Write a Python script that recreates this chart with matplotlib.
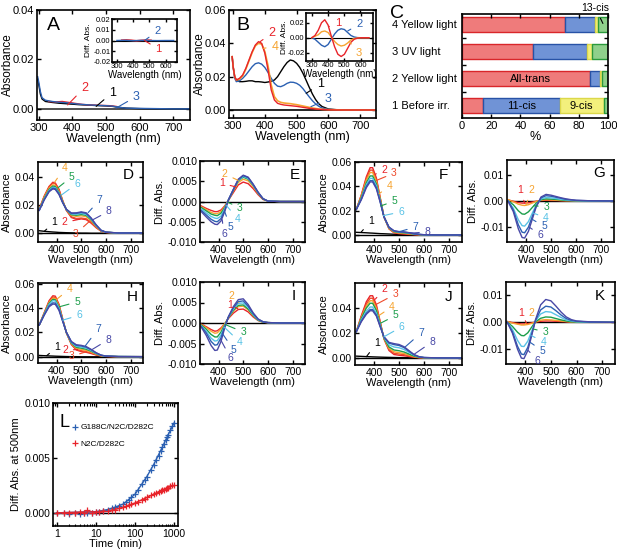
import numpy as np
import matplotlib
matplotlib.use("Agg")
import matplotlib.pyplot as plt
import matplotlib.transforms as mtrans

plt.rcParams['font.family'] = ['Liberation Sans', 'DejaVu Sans']
plt.rcParams['axes.unicode_minus'] = False

W, H = 617, 552

# -----------------------------------------------------------------------------
# Data
# -----------------------------------------------------------------------------
# Panel A: absorbance spectra (1 black, 2 red, 3 blue)
WL_A = [297, 300, 305, 310, 320, 340, 360, 380, 400, 420, 450, 480, 500, 520,
        540, 560, 600, 650, 700, 750]
A_1 = [0.012, 0.010, 0.006, 0.004, 0.003, 0.0026, 0.0023, 0.0021, 0.0019,
       0.0017, 0.0015, 0.0013, 0.0012, 0.0010, 0.0006, 0.0003, 0.0001, 0.0,
       0.0, 0.0]
A_3 = [0.013, 0.011, 0.007, 0.0045, 0.0035, 0.003, 0.0027, 0.0025, 0.0022,
       0.0019, 0.0016, 0.0014, 0.0013, 0.0011, 0.0006, 0.0003, 0.0002, 0.0001,
       0.0, 0.0]
WL_A2 = [330, 350, 370, 390, 410, 430, 450, 470, 490, 510, 530]
A_2 = [0.0030, 0.0028, 0.0030, 0.0026, 0.0022, 0.0018, 0.0016, 0.0015,
       0.0014, 0.0013, 0.0010]
# Panel A inset: difference spectra
WL_AI = [300, 350, 400, 450, 500, 550, 600, 650]
AI_2 = [0.0, 0.0002, -0.0002, 0.0001, 0.0, -0.0001, 0.0, 0.0]
WL_AI1 = [330, 360, 390, 420, 450, 480, 510]
AI_1 = [0.0003, 0.0005, 0.0002, -0.0003, 0.0001, 0.0004, 0.0002]

# Panel B: absorbance spectra (1 black, 2 red, 3 blue, 4 orange)
WL_B = [297, 300, 305, 310, 320, 330, 340, 350, 360, 370, 380, 390, 400, 410,
        420, 430, 440, 450, 460, 470, 480, 490, 500, 510, 520, 530, 540, 550,
        560, 570, 580, 600, 625, 650, 700, 750]
B_1 = [0.032, 0.026, 0.020, 0.018, 0.017, 0.017, 0.0172, 0.0175, 0.0175,
       0.017, 0.017, 0.0168, 0.0165, 0.0168, 0.0172, 0.018, 0.020, 0.023,
       0.026, 0.0285, 0.0300, 0.0295, 0.0280, 0.0255, 0.0220, 0.0178, 0.0135,
       0.0095, 0.0062, 0.0037, 0.0021, 0.0006, 0.0002, 0.0001, 0.0, 0.0]
B_2 = [0.032, 0.026, 0.020, 0.018, 0.019, 0.021, 0.025, 0.030, 0.035, 0.039,
       0.041, 0.040, 0.034, 0.024, 0.012, 0.006, 0.004, 0.0034, 0.003, 0.0028,
       0.0026, 0.0024, 0.0022, 0.0019, 0.0016, 0.0013, 0.0010, 0.0008, 0.0006,
       0.0004, 0.0003, 0.0001, 0.0, 0.0, 0.0, 0.0]
B_3 = [0.032, 0.026, 0.019, 0.017, 0.0175, 0.019, 0.021, 0.0235, 0.026,
       0.0278, 0.0283, 0.0275, 0.0255, 0.0225, 0.0190, 0.0160, 0.0143, 0.0140,
       0.0148, 0.0160, 0.0167, 0.0166, 0.0160, 0.0148, 0.0128, 0.0103, 0.0078,
       0.0055, 0.0036, 0.0022, 0.0012, 0.0004, 0.0001, 0.0, 0.0, 0.0]
B_4 = [0.032, 0.026, 0.020, 0.018, 0.0185, 0.0205, 0.0245, 0.0295, 0.0345,
       0.0385, 0.0400, 0.0395, 0.0350, 0.0265, 0.0150, 0.0080, 0.0055, 0.0046,
       0.0042, 0.0040, 0.0038, 0.0035, 0.0032, 0.0028, 0.0024, 0.0020, 0.0016,
       0.0012, 0.0009, 0.0006, 0.0004, 0.0002, 0.0001, 0.0, 0.0, 0.0]
# Panel B inset: difference spectra (1 red, 2 blue, 3 orange)
WL_BI = [300, 320, 340, 360, 380, 400, 420, 440, 460, 480, 500, 520, 540,
         560, 580, 600, 650]
BI_1 = [0.0, 0.003, 0.010, 0.020, 0.024, 0.017, 0.002, -0.012, -0.022,
        -0.025, -0.022, -0.014, -0.006, -0.002, -0.0005, 0.0, 0.0]
BI_2 = [0.0, -0.002, -0.006, -0.010, -0.012, -0.009, -0.002, 0.005, 0.010,
        0.012, 0.011, 0.007, 0.003, 0.001, 0.0002, 0.0, 0.0]
BI_3 = [0.0, 0.002, 0.004, 0.008, 0.009, 0.007, 0.001, -0.005, -0.009,
        -0.011, -0.010, -0.007, -0.003, -0.001, -0.0003, 0.0, 0.0]

# Panel C: retinal isomer composition (%)
C_LABELS = ["4 Yellow light", "3 UV light", "2 Yellow light", "1 Before irr."]
C_ALL_TRANS = [70.8, 48.4, 87.9, 14.2]
C_11_CIS = [20.1, 37.2, 6.8, 52.7]
C_9_CIS = [2.3, 3.4, 1.2, 30.6]
C_13_CIS = [6.8, 11.0, 4.1, 2.5]

# Panels D-K: common wavelength grid
WL = [330, 350, 370, 385, 395, 410, 425, 440, 460, 480, 500, 520, 540, 560,
      580, 600, 650, 750]

D_ABS = [
    [0.0016, 0.0012, 0.0009, 0.0007, 0.0006, 0.0004, 0.0003, 0.0002, 0.0001, 0.0, -0.0001, -0.0001, -0.0002, -0.0002, -0.0002, -0.0002, -0.0002, -0.0002],
    [0.0170, 0.0260, 0.0330, 0.0360, 0.0355, 0.0310, 0.0230, 0.0160, 0.0110, 0.0098, 0.0100, 0.0095, 0.0070, 0.0038, 0.0013, 0.0004, 0.0, 0.0],
    [0.0170, 0.0260, 0.0330, 0.0355, 0.0350, 0.0305, 0.0228, 0.0162, 0.0115, 0.0103, 0.0106, 0.0101, 0.0076, 0.0041, 0.0014, 0.0004, 0.0, 0.0],
    [0.0168, 0.0252, 0.0318, 0.0342, 0.0338, 0.0295, 0.0224, 0.0164, 0.0125, 0.0118, 0.0122, 0.0116, 0.0087, 0.0047, 0.0016, 0.0005, 0.0, 0.0],
    [0.0165, 0.0246, 0.0310, 0.0333, 0.0329, 0.0288, 0.0221, 0.0165, 0.0130, 0.0126, 0.0131, 0.0125, 0.0094, 0.0051, 0.0017, 0.0005, 0.0, 0.0],
    [0.0163, 0.0241, 0.0303, 0.0325, 0.0321, 0.0282, 0.0218, 0.0166, 0.0135, 0.0133, 0.0139, 0.0132, 0.0099, 0.0054, 0.0018, 0.0005, 0.0, 0.0],
    [0.0161, 0.0237, 0.0297, 0.0318, 0.0314, 0.0277, 0.0216, 0.0167, 0.0139, 0.0139, 0.0146, 0.0139, 0.0104, 0.0057, 0.0019, 0.0006, 0.0, 0.0],
    [0.0160, 0.0234, 0.0293, 0.0313, 0.0309, 0.0273, 0.0214, 0.0168, 0.0142, 0.0143, 0.0150, 0.0143, 0.0107, 0.0059, 0.0020, 0.0006, 0.0, 0.0],
]
E_DIFF = [
    [-0.0011, -0.0017, -0.0022, -0.0025, -0.0025, -0.0021, -0.0011, 0.0003, 0.0022, 0.0041, 0.0048, 0.0044, 0.0032, 0.0017, 0.0005, 0.0001, 0.0, 0.0],
    [-0.0013, -0.0020, -0.0027, -0.0030, -0.0030, -0.0025, -0.0013, 0.0003, 0.0026, 0.0047, 0.0055, 0.0051, 0.0037, 0.0020, 0.0006, 0.0001, 0.0, 0.0],
    [-0.0015, -0.0023, -0.0031, -0.0034, -0.0035, -0.0029, -0.0015, 0.0003, 0.0028, 0.0051, 0.0060, 0.0055, 0.0040, 0.0021, 0.0006, 0.0001, 0.0, 0.0],
    [-0.0018, -0.0028, -0.0037, -0.0041, -0.0042, -0.0036, -0.0018, 0.0004, 0.0029, 0.0052, 0.0062, 0.0057, 0.0041, 0.0022, 0.0007, 0.0001, 0.0, 0.0],
    [-0.0022, -0.0033, -0.0044, -0.0049, -0.0050, -0.0042, -0.0022, 0.0004, 0.0029, 0.0054, 0.0064, 0.0059, 0.0042, 0.0023, 0.0007, 0.0001, 0.0, 0.0],
    [-0.0025, -0.0038, -0.0050, -0.0056, -0.0057, -0.0048, -0.0025, 0.0004, 0.0030, 0.0055, 0.0065, 0.0060, 0.0043, 0.0023, 0.0007, 0.0001, 0.0, 0.0],
]
F_ABS = [
    [0.0022, 0.0020, 0.0018, 0.0016, 0.0015, 0.0013, 0.0011, 0.0010, 0.0008, 0.0006, 0.0005, 0.0004, 0.0003, 0.0002, 0.0001, 0.0001, 0.0, 0.0],
    [0.0210, 0.0330, 0.0480, 0.0555, 0.0555, 0.0470, 0.0310, 0.0150, 0.0050, 0.0018, 0.0011, 0.0008, 0.0005, 0.0003, 0.0001, 0.0, 0.0, 0.0],
    [0.0210, 0.0325, 0.0465, 0.0535, 0.0535, 0.0455, 0.0305, 0.0150, 0.0053, 0.0021, 0.0014, 0.0011, 0.0007, 0.0004, 0.0002, 0.0001, 0.0, 0.0],
    [0.0210, 0.0320, 0.0450, 0.0515, 0.0515, 0.0440, 0.0300, 0.0150, 0.0056, 0.0024, 0.0017, 0.0014, 0.0010, 0.0005, 0.0002, 0.0001, 0.0, 0.0],
    [0.0210, 0.0310, 0.0430, 0.0487, 0.0487, 0.0420, 0.0290, 0.0150, 0.0059, 0.0028, 0.0021, 0.0018, 0.0013, 0.0007, 0.0003, 0.0001, 0.0, 0.0],
    [0.0210, 0.0300, 0.0415, 0.0467, 0.0467, 0.0405, 0.0283, 0.0150, 0.0061, 0.0031, 0.0024, 0.0021, 0.0016, 0.0009, 0.0004, 0.0001, 0.0, 0.0],
    [0.0210, 0.0295, 0.0400, 0.0448, 0.0448, 0.0390, 0.0275, 0.0150, 0.0063, 0.0033, 0.0026, 0.0023, 0.0018, 0.0010, 0.0005, 0.0002, 0.0, 0.0],
    [0.0210, 0.0290, 0.0390, 0.0438, 0.0438, 0.0380, 0.0270, 0.0150, 0.0065, 0.0035, 0.0028, 0.0025, 0.0019, 0.0011, 0.0005, 0.0002, 0.0, 0.0],
]
G_DIFF = [
    [0.0004, -0.0001, -0.0006, -0.0008, -0.0008, -0.0007, -0.0004, -0.0001, 0.0002, 0.0003, 0.0002, 0.0002, 0.0001, 0.0001, 0.0, 0.0, 0.0, 0.0],
    [0.0005, -0.0003, -0.0012, -0.0016, -0.0017, -0.0014, -0.0008, -0.0002, 0.0003, 0.0005, 0.0004, 0.0003, 0.0002, 0.0001, 0.0001, 0.0, 0.0, 0.0],
    [0.0, -0.0014, -0.0037, -0.0049, -0.0050, -0.0041, -0.0025, -0.0009, 0.0005, 0.0008, 0.0007, 0.0006, 0.0004, 0.0002, 0.0001, 0.0001, 0.0, 0.0],
    [0.0, -0.0027, -0.0071, -0.0093, -0.0095, -0.0078, -0.0047, -0.0017, 0.0008, 0.0013, 0.0012, 0.0009, 0.0006, 0.0004, 0.0002, 0.0001, 0.0, 0.0],
    [0.0, -0.0034, -0.0090, -0.0118, -0.0120, -0.0099, -0.0060, -0.0021, 0.0012, 0.0020, 0.0018, 0.0014, 0.0010, 0.0006, 0.0004, 0.0002, 0.0001, 0.0],
    [-0.0003, -0.0040, -0.0105, -0.0138, -0.0140, -0.0115, -0.0070, -0.0025, 0.0015, 0.0025, 0.0022, 0.0017, 0.0012, 0.0008, 0.0005, 0.0003, 0.0001, 0.0],
]
H_ABS = [
    [0.0010, 0.0008, 0.0006, 0.0005, 0.0004, 0.0003, 0.0002, 0.0001, 0.0, 0.0, -0.0001, -0.0001, -0.0001, -0.0001, -0.0001, -0.0001, -0.0001, -0.0001],
    [0.0260, 0.0360, 0.0460, 0.0500, 0.0497, 0.0430, 0.0310, 0.0195, 0.0100, 0.0055, 0.0042, 0.0036, 0.0026, 0.0014, 0.0006, 0.0002, 0.0, 0.0],
    [0.0260, 0.0357, 0.0453, 0.0490, 0.0487, 0.0423, 0.0307, 0.0196, 0.0104, 0.0061, 0.0049, 0.0042, 0.0031, 0.0017, 0.0007, 0.0003, 0.0, 0.0],
    [0.0260, 0.0353, 0.0445, 0.0480, 0.0477, 0.0415, 0.0303, 0.0197, 0.0108, 0.0069, 0.0060, 0.0052, 0.0038, 0.0021, 0.0008, 0.0003, 0.0, 0.0],
    [0.0260, 0.0350, 0.0438, 0.0470, 0.0467, 0.0407, 0.0300, 0.0198, 0.0112, 0.0077, 0.0070, 0.0061, 0.0045, 0.0025, 0.0010, 0.0004, 0.0001, 0.0],
    [0.0260, 0.0347, 0.0430, 0.0460, 0.0457, 0.0400, 0.0297, 0.0199, 0.0116, 0.0085, 0.0079, 0.0070, 0.0051, 0.0028, 0.0011, 0.0004, 0.0001, 0.0],
    [0.0260, 0.0343, 0.0418, 0.0442, 0.0440, 0.0388, 0.0293, 0.0200, 0.0121, 0.0093, 0.0088, 0.0078, 0.0057, 0.0031, 0.0012, 0.0005, 0.0001, 0.0],
    [0.0260, 0.0340, 0.0410, 0.0432, 0.0430, 0.0380, 0.0290, 0.0200, 0.0125, 0.0098, 0.0093, 0.0083, 0.0060, 0.0033, 0.0013, 0.0005, 0.0001, 0.0],
]
I_DIFF = [
    [-0.0003, -0.0009, -0.0016, -0.0020, -0.0019, -0.0012, -0.0002, 0.0011, 0.0024, 0.0033, 0.0034, 0.0027, 0.0015, 0.0006, 0.0002, 0.0001, 0.0, 0.0],
    [-0.0004, -0.0011, -0.0020, -0.0025, -0.0024, -0.0015, -0.0002, 0.0013, 0.0029, 0.0040, 0.0041, 0.0032, 0.0018, 0.0007, 0.0002, 0.0001, 0.0, 0.0],
    [-0.0005, -0.0015, -0.0028, -0.0034, -0.0034, -0.0022, -0.0005, 0.0013, 0.0031, 0.0043, 0.0044, 0.0034, 0.0019, 0.0007, 0.0002, 0.0001, 0.0, 0.0],
    [-0.0007, -0.0020, -0.0037, -0.0044, -0.0043, -0.0029, -0.0007, 0.0014, 0.0034, 0.0048, 0.0049, 0.0038, 0.0021, 0.0008, 0.0003, 0.0001, 0.0, 0.0],
    [-0.0008, -0.0024, -0.0045, -0.0054, -0.0053, -0.0036, -0.0009, 0.0015, 0.0037, 0.0052, 0.0054, 0.0041, 0.0023, 0.0009, 0.0003, 0.0001, 0.0, 0.0],
    [-0.0010, -0.0030, -0.0055, -0.0067, -0.0066, -0.0045, -0.0012, 0.0015, 0.0040, 0.0057, 0.0059, 0.0045, 0.0025, 0.0010, 0.0003, 0.0001, 0.0, 0.0],
]
J_ABS = [
    [0.0015, 0.0013, 0.0011, 0.0010, 0.0009, 0.0008, 0.0007, 0.0006, 0.0005, 0.0004, 0.0003, 0.0003, 0.0002, 0.0002, 0.0001, 0.0001, 0.0, 0.0],
    [0.0210, 0.0338, 0.0450, 0.0498, 0.0498, 0.0425, 0.0292, 0.0153, 0.0060, 0.0028, 0.0022, 0.0018, 0.0012, 0.0006, 0.0002, 0.0001, 0.0, 0.0],
    [0.0210, 0.0330, 0.0432, 0.0478, 0.0478, 0.0410, 0.0285, 0.0155, 0.0068, 0.0038, 0.0032, 0.0027, 0.0017, 0.0008, 0.0003, 0.0001, 0.0, 0.0],
    [0.0210, 0.0322, 0.0415, 0.0458, 0.0458, 0.0395, 0.0278, 0.0157, 0.0077, 0.0050, 0.0043, 0.0036, 0.0023, 0.0011, 0.0004, 0.0002, 0.0, 0.0],
    [0.0210, 0.0315, 0.0400, 0.0438, 0.0438, 0.0380, 0.0272, 0.0160, 0.0088, 0.0064, 0.0058, 0.0048, 0.0031, 0.0015, 0.0006, 0.0002, 0.0, 0.0],
    [0.0210, 0.0305, 0.0375, 0.0408, 0.0408, 0.0358, 0.0262, 0.0165, 0.0105, 0.0088, 0.0082, 0.0068, 0.0044, 0.0021, 0.0008, 0.0003, 0.0001, 0.0],
    [0.0210, 0.0295, 0.0358, 0.0388, 0.0388, 0.0343, 0.0254, 0.0168, 0.0119, 0.0107, 0.0100, 0.0083, 0.0053, 0.0025, 0.0009, 0.0004, 0.0001, 0.0],
    [0.0210, 0.0290, 0.0350, 0.0378, 0.0378, 0.0335, 0.0250, 0.0170, 0.0125, 0.0115, 0.0108, 0.0090, 0.0058, 0.0027, 0.0010, 0.0004, 0.0001, 0.0],
]
K_DIFF = [
    [0.0003, -0.0001, -0.0004, -0.0006, -0.0006, -0.0005, -0.0002, 0.0001, 0.0004, 0.0005, 0.0005, 0.0004, 0.0003, 0.0002, 0.0001, 0.0, 0.0, 0.0],
    [0.0003, -0.0003, -0.0007, -0.0010, -0.0010, -0.0008, -0.0004, 0.0001, 0.0008, 0.0010, 0.0009, 0.0007, 0.0005, 0.0003, 0.0001, 0.0001, 0.0, 0.0],
    [0.0, -0.0015, -0.0037, -0.0049, -0.0050, -0.0039, -0.0018, 0.0002, 0.0015, 0.0020, 0.0019, 0.0014, 0.0009, 0.0005, 0.0002, 0.0001, 0.0, 0.0],
    [0.0, -0.0026, -0.0067, -0.0089, -0.0090, -0.0070, -0.0033, 0.0005, 0.0031, 0.0040, 0.0038, 0.0028, 0.0018, 0.0009, 0.0005, 0.0002, 0.0001, 0.0],
    [0.0, -0.0035, -0.0089, -0.0118, -0.0120, -0.0093, -0.0044, 0.0007, 0.0046, 0.0060, 0.0057, 0.0043, 0.0027, 0.0014, 0.0007, 0.0004, 0.0001, 0.0],
    [0.0, -0.0040, -0.0100, -0.0133, -0.0135, -0.0105, -0.0050, 0.0010, 0.0065, 0.0085, 0.0080, 0.0060, 0.0038, 0.0020, 0.0010, 0.0005, 0.0002, 0.0],
]

# Panel L: time course of difference absorbance at 500 nm
L_T = [1, 1.5, 2, 3, 4, 5, 6, 8, 10, 12, 15, 20, 25, 30, 40, 50, 60, 70, 80,
       100, 120, 150, 180, 200, 250, 300, 350, 400, 450, 500, 550, 600, 650,
       700, 800, 900, 1000]
L_TRIPLE = [0.0, 0.0, -0.0001, 0.0, -0.0001, 0.0, 0.0, 0.0, 0.0001, 0.0001,
            0.0002, 0.0003, 0.0004, 0.0005, 0.0006, 0.0008, 0.0010, 0.0012,
            0.0014, 0.0017, 0.0021, 0.0026, 0.0030, 0.0033, 0.0039, 0.0044,
            0.0048, 0.0052, 0.0056, 0.0060, 0.0063, 0.0066, 0.0069, 0.0071,
            0.0075, 0.0079, 0.0082]
L_DOUBLE = [0.0, 0.0, 0.0, 0.0, 0.0001, 0.0, 0.0003, 0.0, 0.0001, 0.0001,
            0.0002, 0.0002, 0.0003, 0.0003, 0.0004, 0.0005, 0.0006, 0.0007,
            0.0008, 0.0009, 0.0010, 0.0012, 0.0013, 0.0014, 0.0016, 0.0017,
            0.0018, 0.0019, 0.0020, 0.0021, 0.0021, 0.0022, 0.0023, 0.0023,
            0.0024, 0.0025, 0.0025]
FIT_T = [1, 10, 20, 30, 50, 100, 200, 300, 500, 700, 1000]
FIT_TRIPLE = [0.0, 0.0001, 0.0003, 0.0005, 0.0008, 0.0017, 0.0033, 0.0044,
              0.0060, 0.0071, 0.0082]
FIT_DOUBLE = [0.0, 0.0001, 0.0002, 0.0003, 0.0005, 0.0009, 0.0014, 0.0017,
              0.0021, 0.0023, 0.0025]

# Colours
RED = '#e8232a'
RED2 = '#ef4a2b'
ORANGE = '#f6a431'
GREEN = '#1c9e4b'
CYAN = '#58c2e6'
BLUE = '#2b60b2'
INDIGO = '#4848a6'
ABS_COLORS = ['k', RED, RED2, ORANGE, GREEN, CYAN, BLUE, INDIGO]
DIFF_COLORS = [RED, ORANGE, GREEN, CYAN, BLUE, INDIGO]


# -----------------------------------------------------------------------------
# Helpers
# -----------------------------------------------------------------------------
def add_ax(fig, l, t, r, b):
    # axes from pixel box (left, top, right, bottom)
    return fig.add_axes([l / W, 1 - b / H, (r - l) / W, (b - t) / H])


def style(ax, fs=8):
    ax.tick_params(direction='in', top=True, right=True, length=3, width=1,
                   labelsize=fs, pad=2)
    ax.tick_params(which='minor', direction='in', top=True, right=True,
                   length=1.8, width=0.8)
    for s in ax.spines.values():
        s.set_linewidth(1.2)


def tag(ax, text, color, xy, xytext, fs=8):
    ax.annotate(text, xy=xy, xytext=xytext, color=color, fontsize=fs,
                ha='center', va='center',
                arrowprops=dict(arrowstyle='-', color=color, lw=0.8,
                                shrinkA=2, shrinkB=0))


def spectra_panel(ax, curves, colors, ylim, yticks, fmt, ylabel, letter,
                  lpos, tags):
    ax.axhline(0, color='k', lw=1.0, zorder=1)
    for y, c in zip(curves, colors):
        ax.plot(WL, y, color=c, lw=1.0)
    ax.set_xlim(325, 750)
    ax.set_ylim(*ylim)
    ax.set_xticks([400, 500, 600, 700])
    ax.set_yticks(yticks)
    ax.set_yticklabels([fmt % v for v in yticks])
    style(ax, 7.5)
    ax.set_xlabel('Wavelength (nm)', fontsize=8, labelpad=0)
    ax.set_ylabel(ylabel, fontsize=8, labelpad=2)
    ax.text(lpos[0], lpos[1], letter, transform=ax.transAxes, fontsize=11,
            ha='center', va='center')
    for text, ci, xy, xyt in tags:
        tag(ax, text, colors[ci], xy, xyt, fs=7.5)


fig = plt.figure(figsize=(W / 100, H / 100), dpi=100)

# -----------------------------------------------------------------------------
# Panel A
# -----------------------------------------------------------------------------
ax = add_ax(fig, 37, 10, 190, 120)
ax.axhline(0, color='#333333', lw=1.2, zorder=1)
ax.plot(WL_A, A_1, color='k', lw=1.0)
ax.plot(WL_A2, A_2, color=RED, lw=1.0)
ax.plot(WL_A, A_3, color=BLUE, lw=1.0)
ax.set_xlim(295, 750)
ax.set_ylim(-0.0045, 0.04)
ax.set_xticks([300, 400, 500, 600, 700])
ax.set_yticks([0, 0.02, 0.04])
ax.set_yticklabels(['0.00', '0.02', '0.04'])
style(ax, 8)
ax.set_xlabel('Wavelength (nm)', fontsize=9, labelpad=0)
ax.set_ylabel('Absorbance', fontsize=8.5)
ax.yaxis.set_label_coords(-0.15, 0.5)
ax.text(0.105, 0.86, 'A', transform=ax.transAxes, fontsize=14,
        ha='center', va='center')
tag(ax, '2', RED, (386, 0.0016), (436, 0.0086), 9)
tag(ax, '1', 'k', (471, 0.001), (519, 0.0066), 9)
tag(ax, '3', BLUE, (530, 0.0003), (590, 0.005), 9)

axi = add_ax(fig, 112, 19, 177, 62)
axi.axhline(0, color='k', lw=0.8)
axi.plot(WL_AI1, AI_1, color=RED, lw=1.2)
axi.plot(WL_AI, AI_2, color=BLUE, lw=1.0)
axi.set_xlim(270, 670)
axi.set_ylim(-0.02, 0.02)
axi.set_xticks([300, 400, 500, 600])
axi.set_yticks([-0.02, -0.01, 0, 0.01, 0.02])
axi.set_yticklabels(['-0.02', '-0.01', '0.00', '0.01', '0.02'])
style(axi, 5.5)
axi.tick_params(length=2, pad=1)
axi.set_xlabel('Wavelength (nm)', fontsize=7, labelpad=0)
axi.set_ylabel('Diff. Abs.', fontsize=6)
axi.yaxis.set_label_coords(-0.31, 0.5)
tag(axi, '2', BLUE, (470, 0.0), (548, 0.0085), 8)
tag(axi, '1', RED, (470, 0.0), (556, -0.008), 8)

# -----------------------------------------------------------------------------
# Panel B
# -----------------------------------------------------------------------------
ax = add_ax(fig, 229, 10, 376, 118)
ax.axhline(0, color='k', lw=1.2, zorder=1)
ax.plot(WL_B, B_1, color='k', lw=1.0)
ax.plot(WL_B, B_3, color=BLUE, lw=1.0)
ax.plot(WL_B, B_4, color=ORANGE, lw=1.2)
ax.plot(WL_B, B_2, color=RED, lw=1.0)
ax.set_xlim(287, 750)
ax.set_ylim(-0.0048, 0.06)
ax.set_xticks([300, 400, 500, 600, 700])
ax.set_yticks([0, 0.02, 0.04, 0.06])
ax.set_yticklabels(['0.00', '0.02', '0.04', '0.06'])
style(ax, 8)
ax.set_xlabel('Wavelength (nm)', fontsize=9, labelpad=0)
ax.set_ylabel('Absorbance', fontsize=8.5)
ax.yaxis.set_label_coords(-0.16, 0.5)
ax.text(0.095, 0.86, 'B', transform=ax.transAxes, fontsize=14,
        ha='center', va='center')
tag(ax, '2', RED, (385, 0.041), (421, 0.046), 9)
tag(ax, '4', ORANGE, (395, 0.037), (432, 0.038), 9)
tag(ax, '1', 'k', (530, 0.010), (574, 0.0155), 9)
tag(ax, '3', BLUE, (545, 0.002), (598, 0.0065), 9)

axi = add_ax(fig, 306, 13, 373, 61)
axi.axhline(0, color='k', lw=0.8)
axi.plot(WL_BI, BI_2, color=BLUE, lw=1.0)
axi.plot(WL_BI, BI_3, color=ORANGE, lw=1.0)
axi.plot(WL_BI, BI_1, color=RED, lw=1.0)
axi.set_xlim(265, 675)
axi.set_ylim(-0.031, 0.033)
axi.set_xticks([300, 400, 500, 600])
axi.set_yticks([-0.02, 0, 0.02])
axi.set_yticklabels(['-0.02', '0.00', '0.02'])
style(axi, 5.5)
axi.tick_params(length=2, pad=1)
axi.set_xlabel('Wavelength (nm)', fontsize=7, labelpad=0)
axi.set_ylabel('Diff. Abs.', fontsize=6)
axi.yaxis.set_label_coords(-0.265, 0.5)
tag(axi, '1', RED, (405, 0.015), (460, 0.019), 8)
tag(axi, '2', BLUE, (520, 0.009), (590, 0.018), 8)
tag(axi, '3', ORANGE, (530, -0.005), (590, -0.02), 8)

# -----------------------------------------------------------------------------
# Panel C
# -----------------------------------------------------------------------------
ax = add_ax(fig, 462, 14, 608, 118)
ypos = np.array([4, 3, 2, 1])
segments = [(C_ALL_TRANS, '#ef7b7b', '#d9262a'),
            (C_11_CIS, '#7093d6', '#2852a6'),
            (C_9_CIS, '#f3f07c', '#dcd84a'),
            (C_13_CIS, '#8fd08b', '#2a9a3c')]
left = np.zeros(4)
for vals, fc, ec in segments:
    ax.barh(ypos, vals, left=left, height=0.56, color=fc, edgecolor=ec,
            linewidth=1.0)
    left = left + np.array(vals)
ax.set_xlim(0, 100)
ax.set_ylim(0.55, 4.4)
ax.set_xticks([0, 20, 40, 60, 80, 100])
ax.set_yticks([1.5, 2.5, 3.5])
ax.set_yticklabels([])
style(ax, 8)
ax.set_xlabel('%', fontsize=9, labelpad=0)
trans = mtrans.blended_transform_factory(ax.transAxes, ax.transData)
for y, lab in zip(ypos, C_LABELS):
    ax.text(-0.48, y, lab, transform=trans, fontsize=8, ha='left',
            va='center')
ax.text(46.6, 2, 'All-trans', fontsize=8, ha='center', va='center')
ax.text(40.9, 1, '11-cis', fontsize=8, ha='center', va='center')
ax.text(82, 1, '9-cis', fontsize=8, ha='center', va='center')
ax.annotate('13-cis', xy=(96.5, 4.05), xytext=(91.5, 4.62), fontsize=7.5,
            ha='center', va='center', annotation_clip=False,
            arrowprops=dict(arrowstyle='-', color='k', lw=0.8,
                            shrinkA=2, shrinkB=0))
fig.text(390 / W, 1 - 13 / H, 'C', fontsize=14, ha='left', va='center')

# -----------------------------------------------------------------------------
# Panels D-K
# -----------------------------------------------------------------------------
ax = add_ax(fig, 38, 162, 143, 242)
spectra_panel(ax, D_ABS, ABS_COLORS, (-0.0064, 0.0504), [0, 0.02, 0.04],
              '%.2f', 'Absorbance', 'D', (0.86, 0.84),
              [('1', 0, (352, 0.0015), (392, 0.0075)),
               ('2', 1, (495, 0.0098), (432, 0.0075)),
               ('3', 2, (535, 0.0085), (478, -0.0005)),
               ('4', 3, (392, 0.036), (432, 0.046)),
               ('5', 4, (405, 0.032), (462, 0.040)),
               ('6', 5, (420, 0.027), (483, 0.035)),
               ('7', 6, (528, 0.0145), (575, 0.0235)),
               ('8', 7, (548, 0.0095), (612, 0.0155))])

ax = add_ax(fig, 200, 161, 305, 242)
spectra_panel(ax, E_DIFF, DIFF_COLORS, (-0.010, 0.010),
              [-0.010, -0.005, 0, 0.005, 0.010], '%.3f', 'Diff. Abs.', 'E',
              (0.9, 0.83),
              [('2', 1, (480, 0.0052), (425, 0.0068)),
               ('1', 0, (470, 0.0036), (413, 0.0045)),
               ('3', 2, (438, -0.0002), (487, -0.0016)),
               ('4', 3, (432, -0.001), (478, -0.0043)),
               ('5', 4, (425, -0.0025), (447, -0.0062)),
               ('6', 5, (415, -0.0045), (422, -0.0080))])

ax = add_ax(fig, 355, 162, 462, 242)
spectra_panel(ax, F_ABS, ABS_COLORS, (-0.0058, 0.0602), [0, 0.02, 0.04, 0.06],
              '%.2f', 'Absorbance', 'F', (0.83, 0.84),
              [('1', 0, (350, 0.0025), (388, 0.0115)),
               ('2', 1, (405, 0.050), (442, 0.054)),
               ('3', 2, (410, 0.045), (480, 0.051)),
               ('4', 3, (420, 0.034), (462, 0.040)),
               ('5', 4, (428, 0.024), (482, 0.028)),
               ('6', 5, (438, 0.016), (508, 0.019)),
               ('7', 6, (500, 0.0027), (565, 0.0065)),
               ('8', 7, (545, 0.0015), (614, 0.0025))])

ax = add_ax(fig, 507, 160, 614, 242)
spectra_panel(ax, G_DIFF, DIFF_COLORS, (-0.0155, 0.0155), [-0.01, 0, 0.01],
              '%.2f', 'Diff. Abs.', 'G', (0.86, 0.84),
              [('1', 0, (395, -0.0008), (378, 0.0042)),
               ('2', 1, (400, -0.0016), (423, 0.0042)),
               ('3', 2, (432, -0.0018), (482, -0.0022)),
               ('4', 3, (428, -0.0045), (480, -0.0064)),
               ('5', 4, (423, -0.0068), (472, -0.0096)),
               ('6', 5, (415, -0.010), (457, -0.0127))])

ax = add_ax(fig, 38, 283, 143, 363)
spectra_panel(ax, H_ABS, ABS_COLORS, (-0.0052, 0.0605), [0, 0.02, 0.04, 0.06],
              '%.2f', 'Absorbance', 'H', (0.9, 0.83),
              [('1', 0, (360, 0.0008), (403, 0.008)),
               ('2', 1, (485, 0.0058), (434, 0.0055)),
               ('3', 2, (520, 0.004), (460, 0.0003)),
               ('4', 3, (400, 0.047), (452, 0.0555)),
               ('5', 4, (412, 0.041), (484, 0.045)),
               ('6', 5, (425, 0.030), (492, 0.034)),
               ('7', 6, (515, 0.0085), (569, 0.023)),
               ('8', 7, (545, 0.006), (610, 0.014))])

ax = add_ax(fig, 200, 282, 305, 364)
spectra_panel(ax, I_DIFF, DIFF_COLORS, (-0.010, 0.010),
              [-0.010, -0.005, 0, 0.005, 0.010], '%.3f', 'Diff. Abs.', 'I',
              (0.89, 0.83),
              [('2', 1, (482, 0.0050), (450, 0.0067)),
               ('1', 0, (478, 0.0035), (445, 0.0045)),
               ('3', 2, (428, -0.0004), (500, -0.0022)),
               ('4', 3, (423, -0.001), (487, -0.0047)),
               ('5', 4, (415, -0.0025), (462, -0.0067)),
               ('6', 5, (408, -0.004), (449, -0.0086))])

ax = add_ax(fig, 355, 283, 462, 365)
spectra_panel(ax, J_ABS, ABS_COLORS, (-0.0056, 0.06), [0, 0.02, 0.04],
              '%.2f', 'Absorbance', 'J', (0.87, 0.83),
              [('1', 0, (370, 0.001), (412, 0.012)),
               ('2', 1, (405, 0.047), (442, 0.055)),
               ('3', 2, (410, 0.043), (485, 0.051)),
               ('4', 3, (420, 0.034), (472, 0.041)),
               ('5', 4, (428, 0.028), (486, 0.034)),
               ('6', 5, (440, 0.017), (511, 0.025)),
               ('7', 6, (525, 0.009), (587, 0.020)),
               ('8', 7, (560, 0.003), (632, 0.013))])

ax = add_ax(fig, 506, 282, 615, 364)
spectra_panel(ax, K_DIFF, DIFF_COLORS, (-0.0155, 0.0150), [-0.01, 0, 0.01],
              '%.2f', 'Diff. Abs.', 'K', (0.86, 0.83),
              [('1', 0, (405, -0.0003), (385, 0.0035)),
               ('2', 1, (400, -0.0008), (423, 0.0035)),
               ('3', 2, (432, -0.0025), (479, -0.0036)),
               ('4', 3, (425, -0.005), (470, -0.0072)),
               ('5', 4, (420, -0.0075), (466, -0.0105)),
               ('6', 5, (412, -0.0105), (448, -0.0143))])

# -----------------------------------------------------------------------------
# Panel L
# -----------------------------------------------------------------------------
ax = add_ax(fig, 53, 403, 178, 526)
ax.axhline(0, color='k', lw=1.0, zorder=1)
ax.plot(FIT_T, FIT_TRIPLE, color=BLUE, lw=1.0)
ax.plot(FIT_T, FIT_DOUBLE, color=RED, lw=1.0)
ax.plot(L_T, L_TRIPLE, '+', color=BLUE, ms=4, mew=0.9,
        label='G188C/N2C/D282C')
ax.plot(L_T, L_DOUBLE, '+', color=RED, ms=4, mew=0.9, label='N2C/D282C')
ax.set_xscale('log')
ax.set_xlim(0.8, 1250)
ax.set_ylim(-0.0012, 0.010)
ax.set_xticks([1, 10, 100, 1000])
ax.set_xticklabels(['1', '10', '100', '1000'])
ax.set_yticks([0, 0.005, 0.010])
ax.set_yticklabels(['0.000', '0.005', '0.010'])
style(ax, 7.5)
ax.set_xlabel('Time (min)', fontsize=8, labelpad=0)
ax.set_ylabel('Diff. Abs. at 500nm', fontsize=8, labelpad=2)
ax.text(0.09, 0.84, 'L', transform=ax.transAxes, fontsize=13,
        ha='center', va='center')
ax.legend(loc='upper left', bbox_to_anchor=(0.1, 0.88), frameon=False,
          fontsize=6, handlelength=0.8, handletextpad=0.3, labelspacing=1.0,
          borderpad=0.2)

fig.savefig('out.png', dpi=100)
